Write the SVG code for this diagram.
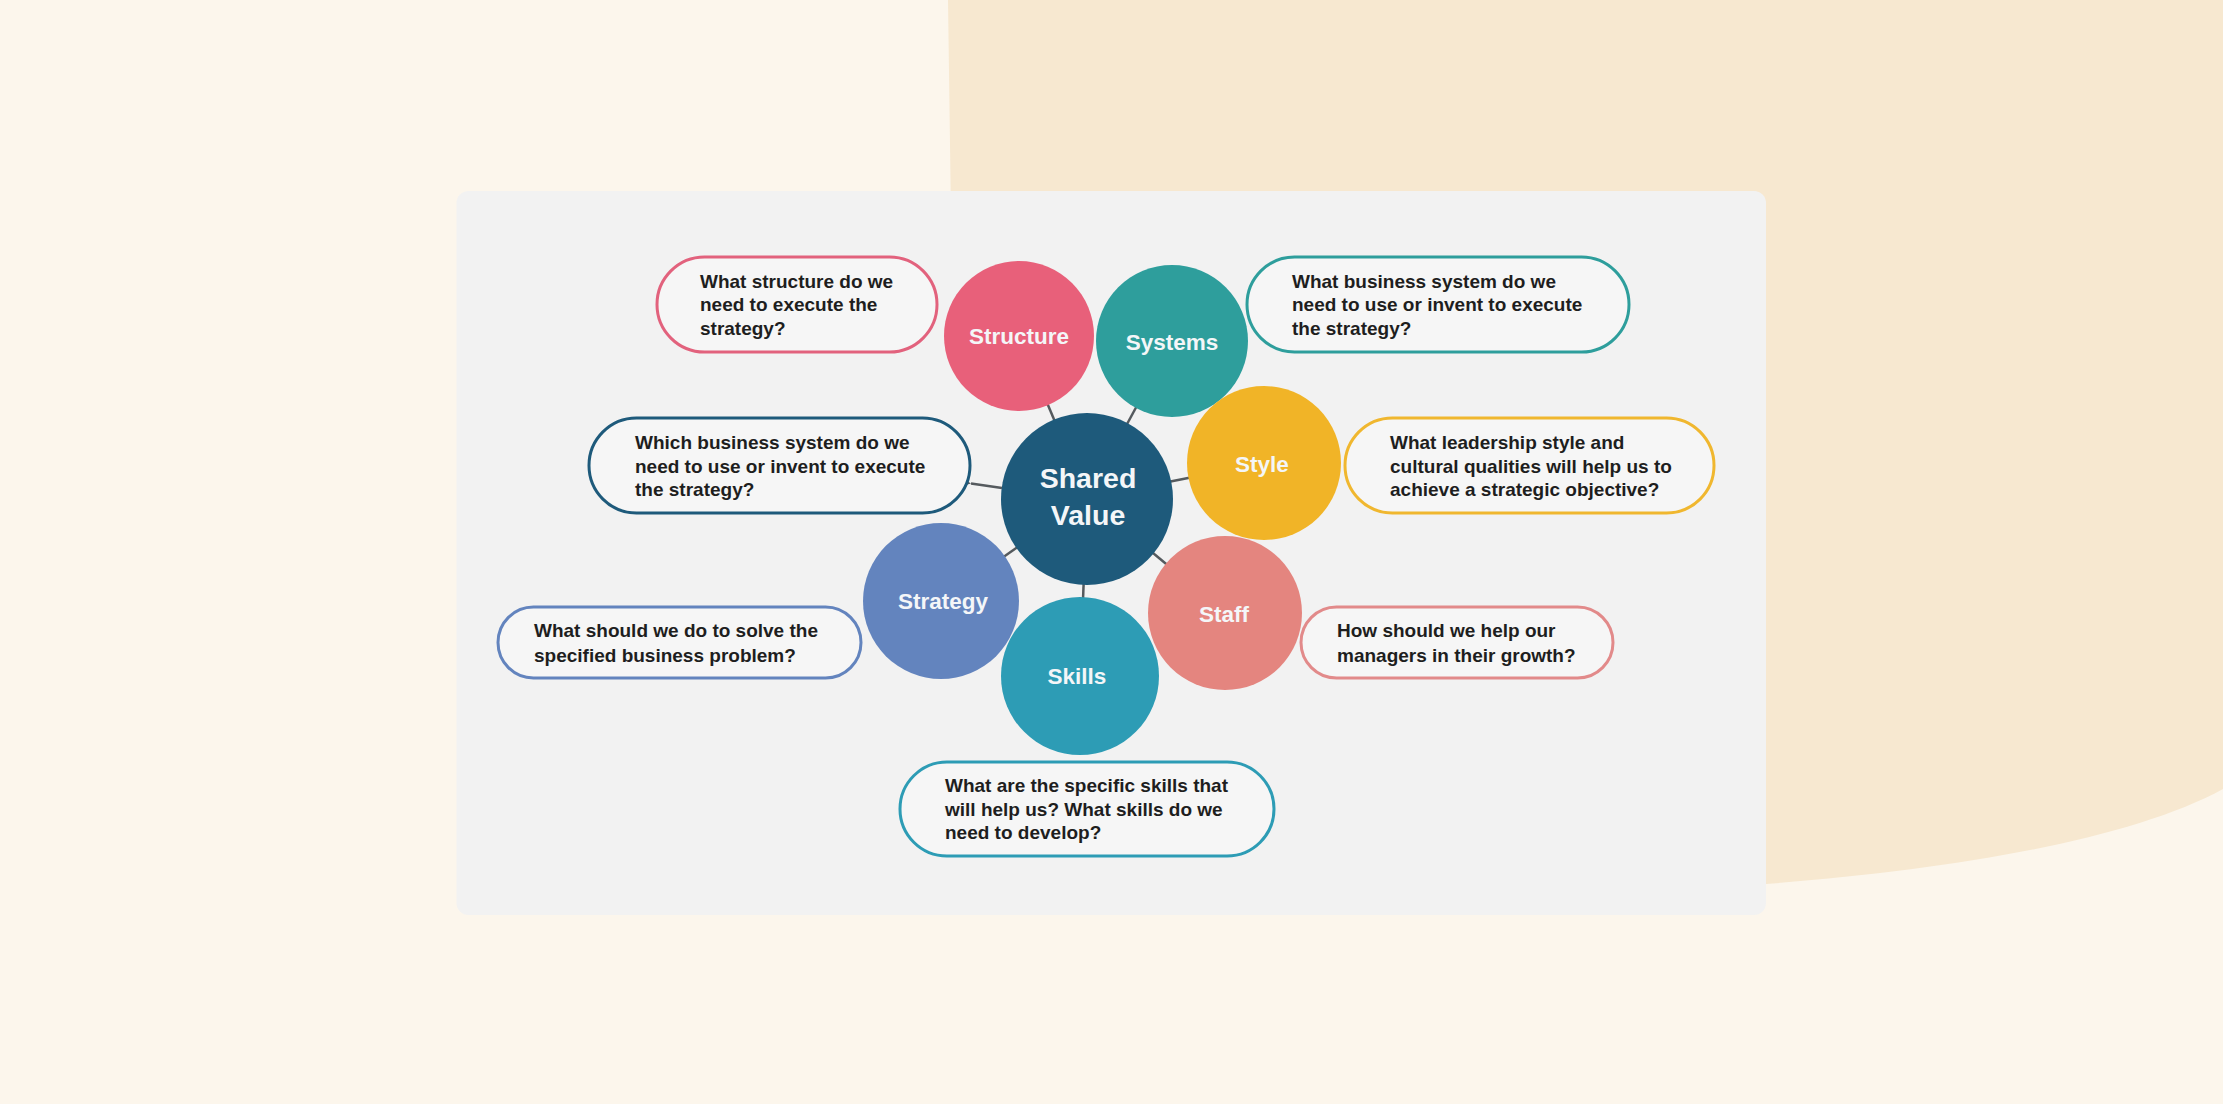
<svg xmlns="http://www.w3.org/2000/svg" width="2223" height="1104" viewBox="0 0 2223 1104">
  <defs>
    <style>
      .box { fill: #F6F6F6; stroke-width: 3; }
      .q { font-family: "Liberation Sans", Arial, sans-serif; font-weight: 700; font-size: 19px; fill: #1E1E1E; }
      .lbl { font-family: "Liberation Sans", Arial, sans-serif; font-weight: 700; font-size: 22.5px; fill: #F4F6F8; text-anchor: middle; }
      .big { font-size: 28.5px; }
      .conn { stroke: #555A5E; stroke-width: 2.5; fill: none; }
    </style>
    <marker id="arr" markerWidth="14" markerHeight="12" refX="1" refY="6" orient="auto" markerUnits="userSpaceOnUse">
      <path d="M1 6 L12 1 L8.5 6 L12 11 Z" fill="#555A5E"/>
    </marker>
  </defs>

  <!-- background -->
  <rect x="0" y="0" width="2223" height="1104" fill="#FCF6EC"/>
  <path d="M948 0 L2223 0 L2223 789 C2130 840 1950 870 1766 884 L960 884 Q955 500 948 0 Z" fill="#F7E8D0"/>
  <rect x="456.5" y="191" width="1309.5" height="724" rx="12" fill="#F2F2F2"/>

  <!-- connectors -->
  <g id="connectors">
    <line class="conn" x1="1087" y1="498" x2="1019" y2="336"/>
    <line class="conn" x1="1087" y1="498" x2="1172" y2="341"/>
    <line class="conn" x1="1087" y1="498" x2="1264" y2="463"/>
    <line class="conn" x1="1087" y1="498" x2="1225" y2="613"/>
    <line class="conn" x1="1087" y1="498" x2="1080" y2="676"/>
    <line class="conn" x1="1087" y1="498" x2="941" y2="601"/>
    <line class="conn" x1="1002" y1="488" x2="971" y2="483.5" marker-end="url(#arr)"/>
  </g>

  <!-- circles -->
  <g id="node-structure">
    <circle cx="1019" cy="336" r="75" fill="#E8607A"/>
    <text class="lbl" x="1019" y="344">Structure</text>
  </g>
  <g id="node-systems">
    <circle cx="1172" cy="341" r="76" fill="#2E9E9C"/>
    <text class="lbl" x="1172" y="350">Systems</text>
  </g>
  <g id="node-style">
    <circle cx="1264" cy="463" r="77" fill="#F1B427"/>
    <text class="lbl" x="1262" y="472">Style</text>
  </g>
  <g id="node-staff">
    <circle cx="1225" cy="613" r="77" fill="#E4857F"/>
    <text class="lbl" x="1224" y="622">Staff</text>
  </g>
  <g id="node-skills">
    <circle cx="1080" cy="676" r="79" fill="#2D9CB5"/>
    <text class="lbl" x="1077" y="684">Skills</text>
  </g>
  <g id="node-strategy">
    <circle cx="941" cy="601" r="78" fill="#6384BE"/>
    <text class="lbl" x="943" y="609">Strategy</text>
  </g>
  <g id="node-shared-value">
    <circle cx="1087" cy="499" r="86" fill="#1E5A7B"/>
    <text class="lbl big" x="1088" y="488">Shared</text>
    <text class="lbl big" x="1088" y="525">Value</text>
  </g>

  <!-- question boxes -->
  <g id="box-structure">
    <rect class="box" x="657" y="257" width="280" height="95" rx="47.5" stroke="#E2627D"/>
    <text class="q" x="700" y="287.5">What structure do we</text>
    <text class="q" x="700" y="311">need to execute the</text>
    <text class="q" x="700" y="334.5">strategy?</text>
  </g>
  <g id="box-systems">
    <rect class="box" x="1247" y="257" width="382" height="95" rx="47.5" stroke="#2E9E9C"/>
    <text class="q" x="1292" y="287.5">What business system do we</text>
    <text class="q" x="1292" y="311">need to use or invent to execute</text>
    <text class="q" x="1292" y="334.5">the strategy?</text>
  </g>
  <g id="box-shared-value">
    <rect class="box" x="589" y="418" width="381" height="95" rx="47.5" stroke="#1E5A7B"/>
    <text class="q" x="635" y="449">Which business system do we</text>
    <text class="q" x="635" y="472.5">need to use or invent to execute</text>
    <text class="q" x="635" y="496">the strategy?</text>
  </g>
  <g id="box-style">
    <rect class="box" x="1345" y="418" width="369" height="95" rx="47.5" stroke="#F0B72F"/>
    <text class="q" x="1390" y="449">What leadership style and</text>
    <text class="q" x="1390" y="472.5">cultural qualities will help us to</text>
    <text class="q" x="1390" y="496">achieve a strategic objective?</text>
  </g>
  <g id="box-strategy">
    <rect class="box" x="498" y="607" width="363" height="71" rx="35.5" stroke="#6384BE"/>
    <text class="q" x="534" y="637">What should we do to solve the</text>
    <text class="q" x="534" y="661.5">specified business problem?</text>
  </g>
  <g id="box-staff">
    <rect class="box" x="1301" y="607" width="312" height="71" rx="35.5" stroke="#E28A8A"/>
    <text class="q" x="1337" y="637">How should we help our</text>
    <text class="q" x="1337" y="661.5">managers in their growth?</text>
  </g>
  <g id="box-skills">
    <rect class="box" x="900" y="762" width="374" height="94" rx="47" stroke="#2D9CB5"/>
    <text class="q" x="945" y="792">What are the specific skills that</text>
    <text class="q" x="945" y="815.5">will help us? What skills do we</text>
    <text class="q" x="945" y="839">need to develop?</text>
  </g>
</svg>
